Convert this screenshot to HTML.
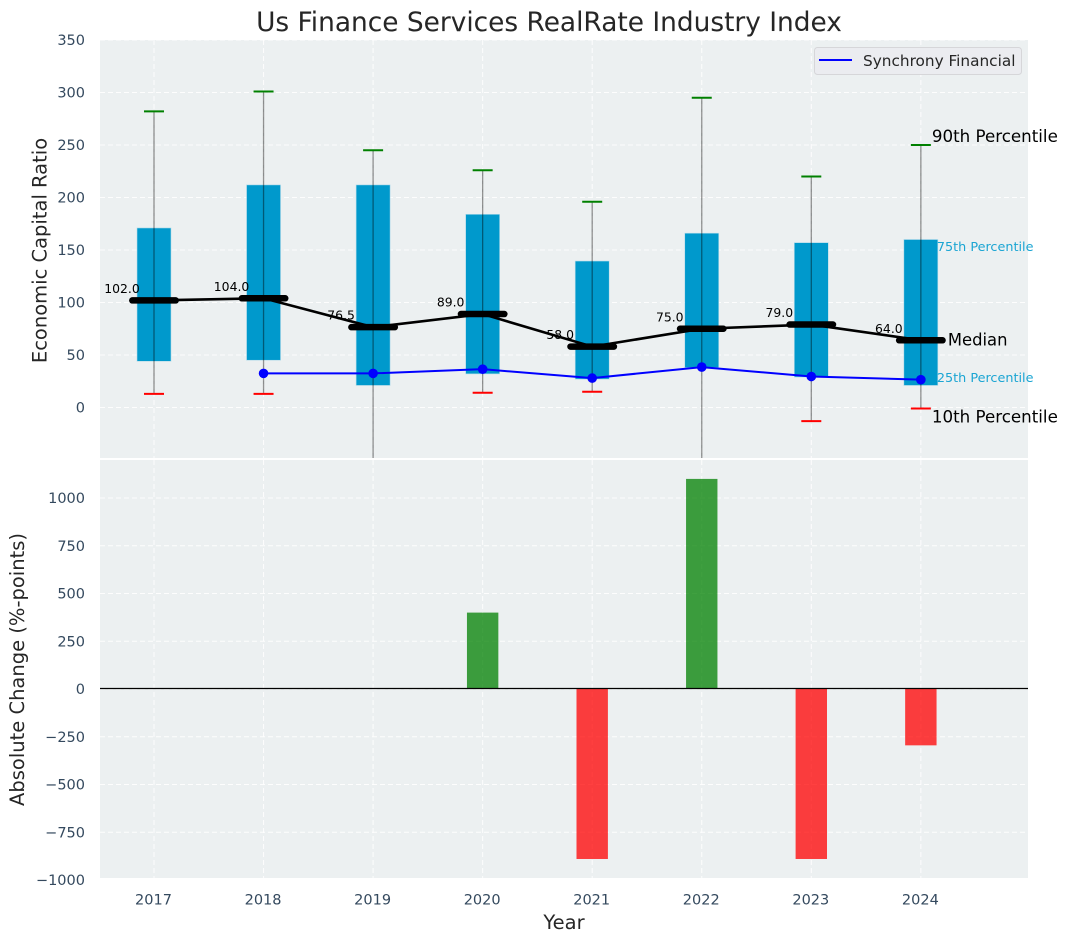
<!DOCTYPE html>
<html>
<head>
<meta charset="utf-8">
<title>Us Finance Services RealRate Industry Index</title>
<style>
html,body{margin:0;padding:0;background:#fff;width:1067px;height:942px;overflow:hidden}
svg{display:block}
text{font-family:"DejaVu Sans","Liberation Sans",sans-serif}
</style>
</head>
<body>
<svg id="chart" xmlns="http://www.w3.org/2000/svg" width="1067" height="942" viewBox="0 0 1067 942">
  <defs>
    <clipPath id="top-clip"><rect x="100" y="40" width="928" height="418"></rect></clipPath>
    <clipPath id="bottom-clip"><rect x="100" y="460" width="928" height="418"></rect></clipPath>
  </defs>
  <rect x="100" y="40" width="928" height="418" fill="#ecf0f1"></rect>
  <rect x="100" y="460" width="928" height="418" fill="#ecf0f1"></rect>
  <g id="grid-layer"></g>
  <g id="bottom-layer" clip-path="url(#bottom-clip)"></g>
  <g id="top-layer" clip-path="url(#top-clip)"></g>
  <g id="text-layer"></g>
  <g>
    <rect x="814.5" y="47.5" width="207" height="27" rx="3" fill="#ebecf0" stroke="#d6d6d9" stroke-width="1"></rect>
    <line x1="819" y1="60" x2="852" y2="60" stroke="#0000ff" stroke-width="2"></line>
    <text x="863" y="66" font-size="15.3" fill="#262626">Synchrony Financial</text>
  </g>
</svg>
<script>
const years = [2017, 2018, 2019, 2020, 2021, 2022, 2023, 2024];
const p90 = [282, 301, 245, 226, 196, 295, 220, 250];
const p75 = [171, 212, 212, 184, 139.5, 166, 157, 160];
const medians = [102, 104, 76.5, 89, 58, 75, 79, 64];
const p25 = [44, 45, 21, 32, 27, 38, 29, 21];
const p10 = [13, 13, -60, 14, 15, -60, -13, -1];
const synchrony = [null, 32.5, 32.5, 36.5, 28, 38.5, 29.5, 26.5];
const changes = [0, 0, 0, 400, -890, 1100, -890, -295];
const topTicks = [0, 50, 100, 150, 200, 250, 300, 350];
const bottomTicks = [-1000, -750, -500, -250, 0, 250, 500, 750, 1000];

const NS = 'http://www.w3.org/2000/svg';
const xScale = y => 154 + (y - 2017) * 109.55;
const yTop = v => 407.5 - v * 1.05;
const yBottom = v => 689 - v * 0.191;

function make(parent, tag, props, content) {
  const el = document.createElementNS(NS, tag);
  for (const k in props) el.setAttribute(k, props[k]);
  if (content !== undefined) el.textContent = content;
  parent.appendChild(el);
  return el;
}
const gridLayer = document.getElementById('grid-layer');
const topLayer = document.getElementById('top-layer');
const bottomLayer = document.getElementById('bottom-layer');
const textLayer = document.getElementById('text-layer');
const gridStyle = {stroke:'#ffffff', 'stroke-width':1, 'stroke-dasharray':'5 3', opacity:0.9};
const tickColor = '#34495e';
const tickSize = 14.5;

topTicks.forEach(t => {
  const line = make(gridLayer, 'line', {x1:100, x2:1028, y1:yTop(t), y2:yTop(t), ...gridStyle});
  
  
  const label = make(textLayer, 'text', {x:85, y:yTop(t) + 5.2, 'text-anchor':'end', 'font-size':tickSize, fill:tickColor}, String(t));
  
  
});
bottomTicks.forEach(t => {
  if (yBottom(t) <= 878) {
    const line = make(gridLayer, 'line', {x1:100, x2:1028, y1:yBottom(t), y2:yBottom(t), ...gridStyle});
    
    
  }
  const label = make(textLayer, 'text', {x:85, y:yBottom(t) + 5.2, 'text-anchor':'end', 'font-size':tickSize, fill:tickColor}, String(t).replace('-', '\u2212'));
  
  
});
years.forEach(y => {
  const top = make(gridLayer, 'line', {x1:xScale(y), x2:xScale(y), y1:40, y2:458, ...gridStyle});
  
  
  const bottom = make(gridLayer, 'line', {x1:xScale(y), x2:xScale(y), y1:460, y2:878, ...gridStyle});
  
  
  const label = make(textLayer, 'text', {x:xScale(y) - 0.5, y:904.5, 'text-anchor':'middle', 'font-size':tickSize, fill:tickColor}, String(y));
  
  
});

years.forEach((y, i) => {
  const x = xScale(y);
  const box = make(topLayer, 'rect', {x:x - 17, y:yTop(p75[i]), width:34, height:yTop(p25[i]) - yTop(p75[i]), fill:'#0099cc', stroke:'#b5dcea', 'stroke-width':0.6});
  
  
  const whisker = make(topLayer, 'line', {x1:x, x2:x, y1:yTop(p90[i]), y2:yTop(p10[i]), stroke:'#000000', 'stroke-opacity':0.42, 'stroke-width':1.3});
  
  
  const capHigh = make(topLayer, 'line', {x1:x - 10, x2:x + 10, y1:yTop(p90[i]), y2:yTop(p90[i]), stroke:'#008000', 'stroke-width':2});
  
  
  const capLow = make(topLayer, 'line', {x1:x - 10, x2:x + 10, y1:yTop(p10[i]), y2:yTop(p10[i]), stroke:'#ff0000', 'stroke-width':2});
  
  
});

years.forEach((y, i) => {
  const value = make(topLayer, 'text', {x:xScale(y) - 32, y:yTop(medians[i]) - 7.5, 'text-anchor':'middle', 'font-size':12.4, fill:'#000000'}, medians[i].toFixed(1));
  
  
});

const medianLine = make(topLayer, 'polyline', {points:years.map((y, i) => xScale(y) + ',' + yTop(medians[i])).join(' '), fill:'none', stroke:'#000000', 'stroke-width':2.6});



const synchronyPoints = years.map((y, i) => synchrony[i] === null ? null : xScale(y) + ',' + yTop(synchrony[i])).filter(Boolean).join(' ');
const synchronyLine = make(topLayer, 'polyline', {points:synchronyPoints, fill:'none', stroke:'#0000ff', 'stroke-width':2});



years.forEach((y, i) => {
  const x = xScale(y);
  if (synchrony[i] !== null) {
    const dot = make(topLayer, 'circle', {cx:x, cy:yTop(synchrony[i]), r:4.8, fill:'#0000ff'});
    
    
  }
  const bar = make(topLayer, 'line', {x1:x - 21.7, x2:x + 21.7, y1:yTop(medians[i]), y2:yTop(medians[i]), stroke:'#000000', 'stroke-width':6.5, 'stroke-linecap':'round'});
  
  
});

years.forEach((y, i) => {
  const bar = make(bottomLayer, 'rect', {
    x:xScale(y) - 15.7,
    y:Math.min(yBottom(changes[i]), yBottom(0)),
    width:31.4,
    height:Math.abs(yBottom(changes[i]) - yBottom(0)),
    fill:changes[i] >= 0 ? '#008000' : '#ff0000',
    'fill-opacity':0.75
  });
  
  
});
const zeroLine = make(bottomLayer, 'line', {x1:100, x2:1028, y1:yBottom(0) - 0.5, y2:yBottom(0) - 0.5, stroke:'#000000', 'stroke-width':1.2});



const last = years.length - 1;
const lastX = xScale(years[last]);
const a90 = make(textLayer, 'text', {x:lastX + 11, y:yTop(p90[last]) - 3, 'font-size':16.7, fill:'#000000'}, '90th Percentile');


const a10 = make(textLayer, 'text', {x:lastX + 11, y:yTop(p10[last]) + 14, 'font-size':16.7, fill:'#000000'}, '10th Percentile');


const aMedian = make(textLayer, 'text', {x:lastX + 27, y:yTop(medians[last]) + 5, 'font-size':16.4, fill:'#000000'}, 'Median');


const a75 = make(textLayer, 'text', {x:lastX + 16, y:yTop(p75[last]) + 11.5, 'font-size':12.8, fill:'#1ba5d3'}, '75th Percentile');


const a25 = make(textLayer, 'text', {x:lastX + 16, y:yTop(p25[last]) - 3.5, 'font-size':12.8, fill:'#1ba5d3'}, '25th Percentile');



const title = make(textLayer, 'text', {x:549, y:31, 'text-anchor':'middle', 'font-size':26.4, fill:'#262626'}, 'Us Finance Services RealRate Industry Index');


const yTitleTop = make(textLayer, 'text', {x:0, y:0, transform:'translate(46.5 250.5) rotate(-90)', 'text-anchor':'middle', 'font-size':19.5, fill:'#262626'}, 'Economic Capital Ratio');


const yTitleBottom = make(textLayer, 'text', {x:0, y:0, transform:'translate(24 669.5) rotate(-90)', 'text-anchor':'middle', 'font-size':19.5, fill:'#262626'}, 'Absolute Change (%-points)');


const xTitle = make(textLayer, 'text', {x:564, y:929, 'text-anchor':'middle', 'font-size':19.5, fill:'#262626'}, 'Year');


</script>
</body>
</html>
